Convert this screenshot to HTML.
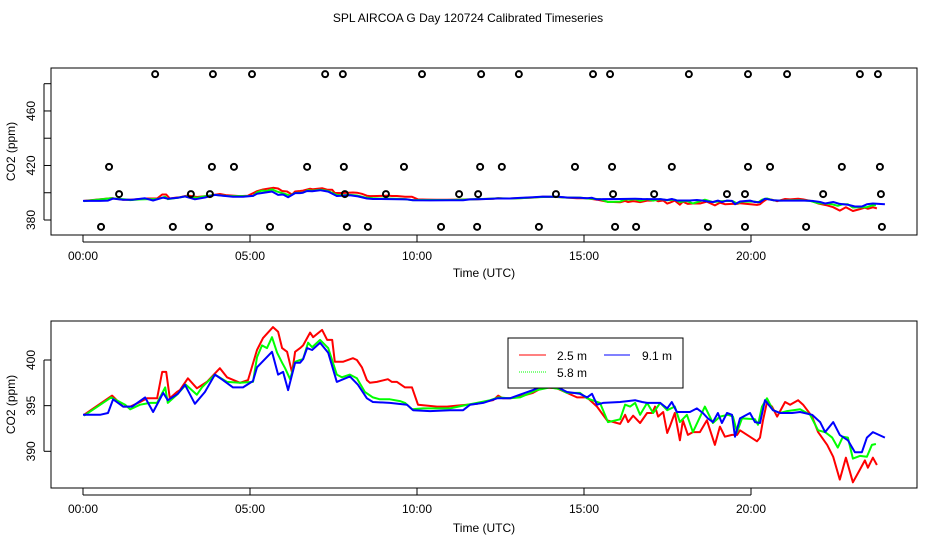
<!DOCTYPE html>
<html><head><meta charset="utf-8"><style>
body{margin:0;background:#fff;}
svg{display:block;font-family:"Liberation Sans",sans-serif;}
</style></head><body>
<svg id="c" width="936" height="540" viewBox="0 0 936 540">
<rect width="936" height="540" fill="#fff"/>
<text x="468" y="22" font-size="12" text-anchor="middle">SPL AIRCOA G  Day 120724  Calibrated Timeseries</text>
<g id="top"></g>
<g id="bot"></g>
<g>
<rect x="508" y="338" width="175" height="50" fill="#fff" stroke="#000" stroke-width="1"/>
<line x1="519" y1="355" x2="546" y2="355" stroke="#f00" stroke-width="1"/>
<text x="557" y="360" font-size="12">2.5 m</text>
<line x1="604" y1="355" x2="630" y2="355" stroke="#00f" stroke-width="1"/>
<text x="642" y="360" font-size="12">9.1 m</text>
<line x1="519" y1="372" x2="546" y2="372" stroke="#0f0" stroke-width="1" stroke-dasharray="1,1"/>
<text x="557" y="377" font-size="12">5.8 m</text>
</g>
</svg>
<script>
const redT=[0.03,0.87,1.20,1.41,1.71,1.92,2.22,2.37,2.49,2.60,2.81,2.90,3.14,3.41,3.71,4.10,4.31,4.70,4.94,5.21,5.39,5.69,5.84,5.96,6.11,6.26,6.35,6.50,6.59,6.80,6.89,7.16,7.31,7.46,7.54,7.78,8.08,8.20,8.35,8.50,8.59,8.80,9.13,9.25,9.40,9.64,9.85,10.03,10.30,10.60,10.90,11.20,11.50,11.80,11.98,12.28,12.43,12.57,12.78,12.99,13.47,13.77,14.19,14.49,14.79,15.09,15.39,15.69,16.08,16.23,16.32,16.47,16.68,16.89,17.04,17.13,17.22,17.37,17.49,17.57,17.72,17.87,17.96,18.11,18.26,18.47,18.68,18.92,19.07,19.22,19.43,19.58,19.67,20.18,20.27,20.36,20.48,20.63,20.78,21.02,21.17,21.41,21.56,21.83,22.01,22.28,22.46,22.66,22.84,23.05,23.26,23.41,23.50,23.65,23.77];
const redV=[394.0,396.1,394.9,394.9,395.4,395.8,395.8,398.7,398.7,395.8,396.5,396.7,398.0,396.9,397.6,399.1,398.1,397.5,397.8,401.1,402.4,403.6,403.1,401.3,400.9,398.6,400.9,401.3,401.6,403.0,402.5,403.3,402.2,402.2,399.8,399.8,400.2,400.0,399.2,397.8,397.5,397.6,397.9,397.6,397.6,397.0,397.0,395.1,395.0,394.9,394.9,395.0,395.1,395.2,395.4,395.6,396.1,395.8,395.8,395.9,396.4,397.0,396.9,396.4,395.9,395.9,394.9,393.4,393.0,394.0,393.2,393.9,393.1,394.2,394.2,394.9,393.8,394.3,392.0,392.7,394.2,391.2,393.4,391.8,392.1,392.1,393.4,390.7,392.7,391.6,391.8,391.8,392.3,391.1,391.5,393.4,395.4,394.9,393.8,395.4,395.1,395.6,395.1,393.8,392.1,390.7,389.4,386.9,389.3,386.6,388.0,389.0,388.2,389.3,388.5];
const greenT=[0.03,0.84,1.26,1.41,1.71,2.01,2.22,2.46,2.54,2.81,3.08,3.41,3.56,3.95,4.31,4.70,5.09,5.21,5.36,5.51,5.66,5.81,5.96,6.05,6.20,6.35,6.50,6.59,6.74,6.86,7.10,7.34,7.60,7.75,7.99,8.20,8.44,8.68,8.89,9.19,9.49,9.64,9.85,10.18,10.60,10.99,11.38,11.80,12.19,12.43,12.78,13.08,13.59,13.98,14.28,14.49,14.88,15.09,15.48,15.72,16.08,16.23,16.38,16.53,16.68,16.89,17.07,17.28,17.49,17.72,17.87,18.08,18.26,18.62,18.86,19.07,19.31,19.46,19.58,19.73,20.12,20.21,20.33,20.48,20.66,20.87,21.08,21.47,21.77,22.01,22.22,22.43,22.60,22.75,22.90,23.05,23.26,23.47,23.62,23.74];
const greenV=[393.9,395.9,395.1,394.6,395.1,395.3,395.3,397.0,395.3,396.2,397.3,396.2,397.0,398.4,397.6,397.5,397.6,400.3,401.6,401.3,402.5,400.8,399.7,399.1,397.9,399.8,400.0,400.1,401.9,401.4,402.2,401.3,398.4,398.1,398.4,398.0,396.5,395.9,395.7,395.7,395.5,395.3,394.6,394.7,394.7,394.7,395.0,395.3,395.6,395.9,395.8,395.9,396.7,397.0,396.8,396.4,396.4,395.8,395.3,393.2,393.5,395.1,394.9,395.3,394.0,395.3,394.2,395.3,394.5,394.9,393.2,394.0,392.1,394.9,393.1,393.8,394.0,393.8,392.1,393.6,393.5,392.9,394.9,395.8,394.5,394.2,394.4,394.6,394.0,392.3,392.1,391.5,390.4,391.6,391.5,389.2,389.5,389.4,390.7,390.8];
const blueT=[0.00,0.51,0.75,0.90,1.20,1.47,1.86,2.10,2.40,2.54,2.84,3.05,3.35,3.65,3.95,4.19,4.49,4.79,5.09,5.21,5.66,5.84,5.99,6.14,6.35,6.50,6.59,6.71,6.86,7.10,7.34,7.60,7.99,8.23,8.50,8.68,9.19,9.70,9.88,10.39,10.99,11.38,11.59,11.98,12.40,12.78,13.08,13.47,13.77,14.22,14.49,14.88,15.09,15.24,15.39,15.57,16.08,16.53,16.74,16.89,17.28,17.49,17.63,17.78,18.17,18.38,18.56,18.71,18.86,19.01,19.13,19.28,19.43,19.52,19.67,19.97,20.12,20.27,20.42,20.66,20.87,21.23,21.47,21.83,22.07,22.22,22.46,22.66,22.90,23.11,23.32,23.47,23.65,24.01];
const blueV=[394.0,394.0,394.2,395.7,394.9,394.9,395.9,394.3,396.4,395.6,396.3,397.3,395.2,396.5,398.4,397.8,397.0,397.0,397.7,399.2,400.9,398.4,398.7,396.7,399.7,399.7,400.1,401.3,401.1,401.9,400.8,397.6,398.2,397.3,395.8,395.4,395.3,395.1,394.5,394.4,394.5,394.5,395.1,395.3,395.8,395.8,396.2,396.7,397.2,397.0,396.5,396.3,395.9,396.3,395.1,395.3,395.4,395.6,395.4,395.3,395.3,394.7,395.4,394.3,394.3,394.7,394.2,393.6,393.2,394.2,393.1,394.2,394.0,391.6,393.6,394.2,393.2,393.1,395.6,394.5,394.2,394.2,394.3,394.0,393.2,392.1,393.2,391.8,391.2,389.9,389.9,391.5,392.1,391.5];
const flagRows=[487,419,399,375];
const flagT0=[2.16,3.89,5.06,7.25,7.78,10.15,11.92,13.05,15.27,15.78,18.14,19.91,21.08,23.26,23.80];
const flagT1=[0.78,3.86,4.52,6.71,7.81,9.61,11.89,12.54,14.73,15.84,17.63,19.91,20.57,22.72,23.86];
const flagT2=[1.08,3.23,3.80,7.84,9.07,11.26,11.83,14.16,15.87,17.10,19.28,19.82,22.16,23.89];
const flagT3=[0.54,2.69,3.77,5.60,7.90,8.53,10.72,11.80,13.65,15.93,16.56,18.71,19.82,21.65,23.92];
const xTicks=[0,5,10,15,20];
const xTickLabels=["00:00","05:00","10:00","15:00","20:00"];
const topYTicks=[380,400,420,440,460,480];
const topYLabels=["380","","420","","460",""];
const botYTicks=[390,395,400];

const NS="http://www.w3.org/2000/svg";
function el(p,t,a){const e=document.createElementNS(NS,t);for(const k in a)e.setAttribute(k,a[k]);p.appendChild(e);return e;}
const xs=h=>83+33.4*h;
function panel(g,box,ys,yt,yl,xlabY){
  const r=el(g,'rect',{x:box[0],y:box[1],width:box[2]-box[0],height:box[3]-box[1],fill:'none',stroke:'#000','stroke-width':1});
  
  
  xTicks.forEach((t,i)=>{
    const l=el(g,'line',{x1:xs(t),x2:xs(t),y1:box[3],y2:box[3]+7,stroke:'#000'});
    
    
    const tx=el(g,'text',{x:xs(t),y:box[3]+25,'font-size':12,'text-anchor':'middle'});
    tx.textContent=xTickLabels[i];
    
    
  });
  const xa=el(g,'line',{x1:xs(0),x2:xs(20),y1:box[3]+7,y2:box[3]+7,stroke:'#000'});
  
  
  yt.forEach((v,i)=>{
    const y=ys(v);
    const l=el(g,'line',{x1:box[0]-7,x2:box[0],y1:y,y2:y,stroke:'#000'});
    
    
    if(yl[i]){const tx=el(g,'text',{x:0,y:0,'font-size':12,'text-anchor':'middle',transform:`translate(35,${y}) rotate(-90)`});
      tx.textContent=yl[i];
      
      }
  });
  const ya=el(g,'line',{x1:box[0]-7,x2:box[0]-7,y1:ys(yt[0]),y2:ys(yt[yt.length-1]),stroke:'#000'});
  
  
  const xl=el(g,'text',{x:484,y:xlabY,'font-size':12,'text-anchor':'middle'});
  xl.textContent='Time (UTC)';
  
  
  const yl2=el(g,'text',{x:0,y:0,'font-size':12,'text-anchor':'middle',transform:`translate(15,${(box[1]+box[3])/2}) rotate(-90)`});
  yl2.textContent='CO2 (ppm)';
  
  
  const series=[[redT,redV,'#f00','series-2-5m'],[greenT,greenV,'#0f0','series-5-8m'],[blueT,blueV,'#00f','series-9-1m']];
  series.forEach(s=>{
    const d=s[0].map((t,i)=>(i?'L':'M')+xs(t).toFixed(1)+','+ys(s[1][i]).toFixed(1)).join('');
    const p=el(g,'path',{d:d,fill:'none',stroke:s[2],'stroke-width':2,'stroke-linejoin':'round'});
    
    
  });
}
const topYs=v=>220-(v-380)*1.363;
const botYs=v=>360-(v-400)*9.13;
panel(document.getElementById('top'),[51,68,917,235],topYs,topYTicks,topYLabels,277);
panel(document.getElementById('bot'),[51,321,917,488],botYs,botYTicks,["390","395","400"],532);
const tg=document.getElementById('top');
[flagT0,flagT1,flagT2,flagT3].forEach((arr,ri)=>{
  arr.forEach(t=>{
    const c=el(tg,'circle',{cx:xs(t),cy:topYs(flagRows[ri]),r:3,fill:'none',stroke:'#000','stroke-width':2});
    
    
  });
});
</script>
</body></html>
